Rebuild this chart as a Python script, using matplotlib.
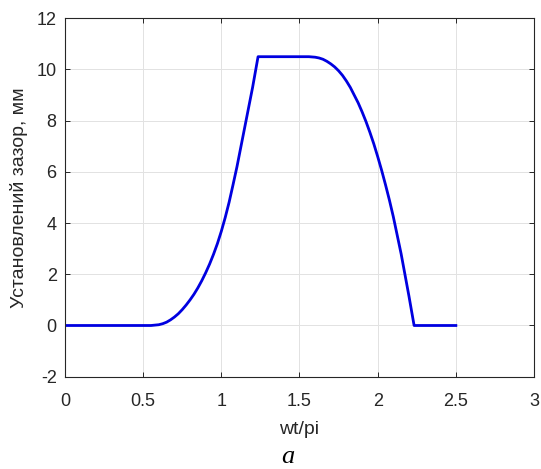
import matplotlib.pyplot as plt

# gap profile over one cycle (wt/pi)
wt_pi = [0.0, 0.55, 0.6, 0.625, 0.65, 0.675, 0.7, 0.725, 0.75, 0.775, 0.8, 0.825, 0.85, 0.875,
         0.9, 0.925, 0.95, 0.975, 1.0, 1.025, 1.05, 1.075, 1.1, 1.15, 1.2, 1.235,
         1.3, 1.4, 1.5, 1.56, 1.6, 1.625, 1.65, 1.675, 1.7, 1.725, 1.75, 1.775, 1.8, 1.825,
         1.85, 1.875, 1.9, 1.925, 1.95, 1.975, 2.0, 2.025, 2.05, 2.075, 2.1, 2.15,
         2.2, 2.233, 2.3, 2.4, 2.5]
gap_mm = [0.0, 0.0, 0.03, 0.07, 0.13, 0.22, 0.33, 0.46, 0.62, 0.8, 1.0, 1.22, 1.47, 1.75,
          2.06, 2.4, 2.78, 3.2, 3.68, 4.22, 4.82, 5.5, 6.2, 7.75, 9.3, 10.5,
          10.5, 10.5, 10.5, 10.5, 10.48, 10.45, 10.4, 10.32, 10.22, 10.1, 9.95, 9.77, 9.55, 9.3,
          9.0, 8.7, 8.35, 7.97, 7.55, 7.1, 6.6, 6.07, 5.5, 4.9, 4.25, 2.8,
          1.15, 0.0, 0.0, 0.0, 0.0]

x_ticks = [0, 0.5, 1, 1.5, 2, 2.5, 3]
x_tick_labels = ["0", "0.5", "1", "1.5", "2", "2.5", "3"]
y_ticks = [-2, 0, 2, 4, 6, 8, 10, 12]

plt.rcParams["font.family"] = ["Liberation Sans", "DejaVu Sans"]
plt.rcParams["axes.unicode_minus"] = False

fig = plt.figure(figsize=(5.41, 4.69), dpi=100)
ax = fig.add_axes([0.1201, 0.1968, 0.8670, 0.7642])

ax.plot(wt_pi, gap_mm, color="#0000e0", lw=2.0)

ax.set_xlim(0, 3)
ax.set_ylim(-2, 12)
ax.set_xticks(x_ticks)
ax.set_xticklabels(x_tick_labels)
ax.set_yticks(y_ticks)
ax.grid(True, color="#e2e2e2", lw=0.7)
ax.set_axisbelow(True)

for s in ax.spines.values():
    s.set_color("#262626")
    s.set_linewidth(0.8)
ax.tick_params(direction="in", length=3.5, width=0.7, colors="#262626",
               top=True, right=True, labelsize=13)
ax.tick_params(axis="x", pad=12)
ax.tick_params(axis="y", pad=6)

ax.set_xlabel("wt/pi", fontsize=14, color="#262626", labelpad=8)
ax.set_ylabel("Установлений зазор, мм", fontsize=14, color="#262626", labelpad=6)

fig.text(0.532, 0.013, "а", fontsize=19, style="italic",
         family="Liberation Serif", ha="center", va="baseline")

fig.savefig("out.png", dpi=100)
